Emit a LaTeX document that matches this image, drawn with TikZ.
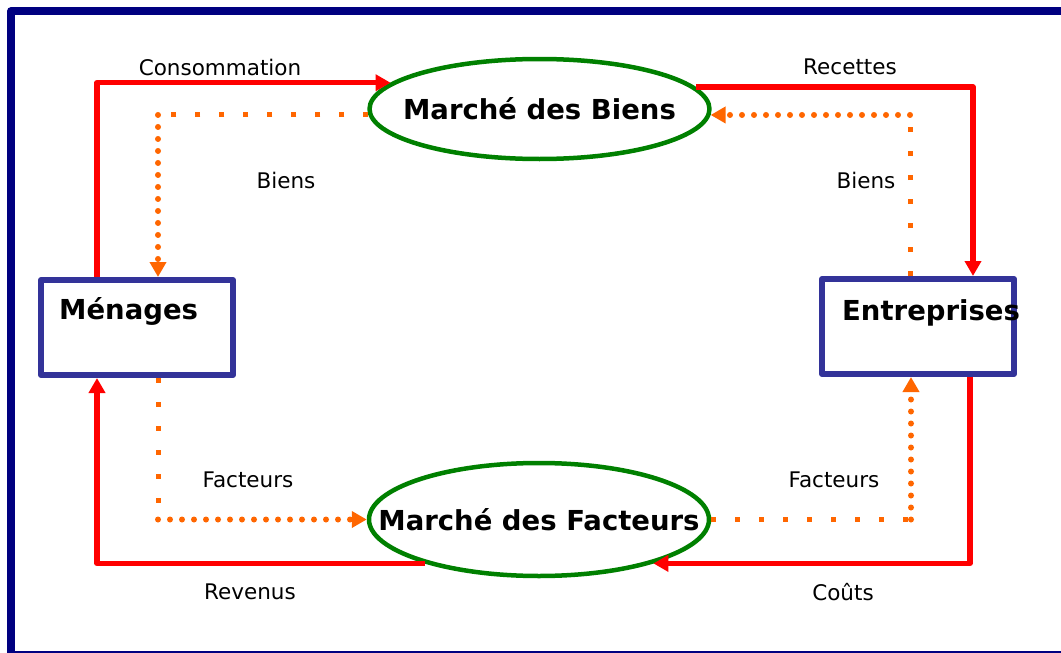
\documentclass[tikz,border=0pt]{standalone}
\usepackage{fontspec}
\setmainfont{DejaVu Sans}
\usepackage{tikz}
\usetikzlibrary{arrows.meta,shapes.geometric}

\definecolor{cadre}{RGB}{0,0,128}
\definecolor{bleuagent}{RGB}{51,51,153}
\definecolor{vertmarche}{RGB}{0,128,0}
\definecolor{rougeflux}{RGB}{255,0,0}
\definecolor{orangeflux}{RGB}{255,102,0}

\begin{document}
\begin{tikzpicture}[line cap=round,line join=round,>={Triangle[length=15pt,width=16pt]},x=1pt,y=-1pt,
  marche/.style={ellipse,draw=vertmarche,line width=4.5pt,minimum width=340pt,inner sep=0pt},
  agent/.style={rectangle,draw=bleuagent,line width=6pt,minimum width=192pt,minimum height=95pt,inner sep=0pt},
  titre/.style={font=\fontsize{27.5}{33}\selectfont\bfseries,inner sep=0pt},
  lbl/.style={font=\fontsize{21.5}{26}\selectfont,inner sep=0pt},
  monnaie/.style={draw=rougeflux,line width=5.5pt,line cap=butt,->},
  reel/.style={draw=orangeflux,line width=6pt,dash pattern=on 0pt off 12pt,->},
  reelclair/.style={draw=orangeflux,line width=5pt,line cap=butt,dash pattern=on 5pt off 19pt}]
\useasboundingbox (0,0) rectangle (1061,653);
% cadre
\draw[cadre,line width=7.5pt,line cap=butt] (1061,11) -- (11,11) -- (11,653);
\draw[cadre,line width=1.5pt,line cap=butt] (11,652) -- (1061,652);
% marches et agents
\node[marche,minimum height=100pt,label={[titre]center:Marché des Biens}] (biens) at (539.5,109) {};
\node[marche,minimum height=113pt,label={[titre]center:Marché des Facteurs}] (facteurs) at (539,519.5) {};
\node[agent,label={[titre,anchor=base west,xshift=21pt,yshift=-42pt]north west:Ménages}] (menages) at (137,327.5) {};
\node[agent,label={[titre,anchor=base west,xshift=23pt,yshift=-44pt]north west:Entreprises}] (entreprises) at (918,326.5) {};
% couloirs des flux reels
\coordinate (mhaut) at ([xshift=21pt]menages.north);
\coordinate (mbas) at ([xshift=21pt]menages.south);
\coordinate (ehaut) at ([xshift=-8pt]entreprises.north);
\coordinate (ebas) at ([xshift=-7pt]entreprises.south);
% flux monetaires
\draw[monnaie] ([xshift=-40pt]menages.north) |- (biens.170);
\draw[monnaie] (biens.8) -| ([xshift=55pt]entreprises.north);
\draw[monnaie] ([xshift=52pt]entreprises.south) |- (facteurs.-21);
\draw[monnaie] (facteurs.201) -| ([xshift=-40pt]menages.south);
% flux reels
\draw[reelclair] (biens.182) -- (biens.182 -| mhaut);
\draw[reel] (biens.182 -| mhaut) -- (mhaut);
\draw[reelclair] (ehaut) -- (ehaut |- biens.-2);
\draw[reel] (ehaut |- biens.-2) -- (biens.-2);
\draw[reelclair] (mbas) -- (mbas |- facteurs.west);
\draw[reel] (mbas |- facteurs.west) -- (facteurs.west);
\draw[reelclair] (facteurs.east) -- (facteurs.east -| ebas);
\draw[reel] (facteurs.east -| ebas) -- (ebas);
% etiquettes
\node[lbl] (consommation) at (220,67) {Consommation};
\node[lbl] (recettes) at (850,67) {Recettes};
\node[lbl] (biensg) at (286,180) {Biens};
\node[lbl] (biensd) at (866,180) {Biens};
\node[lbl] (facteursg) at (248,480) {Facteurs};
\node[lbl] (facteursd) at (834,480) {Facteurs};
\node[lbl] (revenus) at (250,592) {Revenus};
\node[lbl] (couts) at (843,592) {Coûts};
\end{tikzpicture}
\end{document}
